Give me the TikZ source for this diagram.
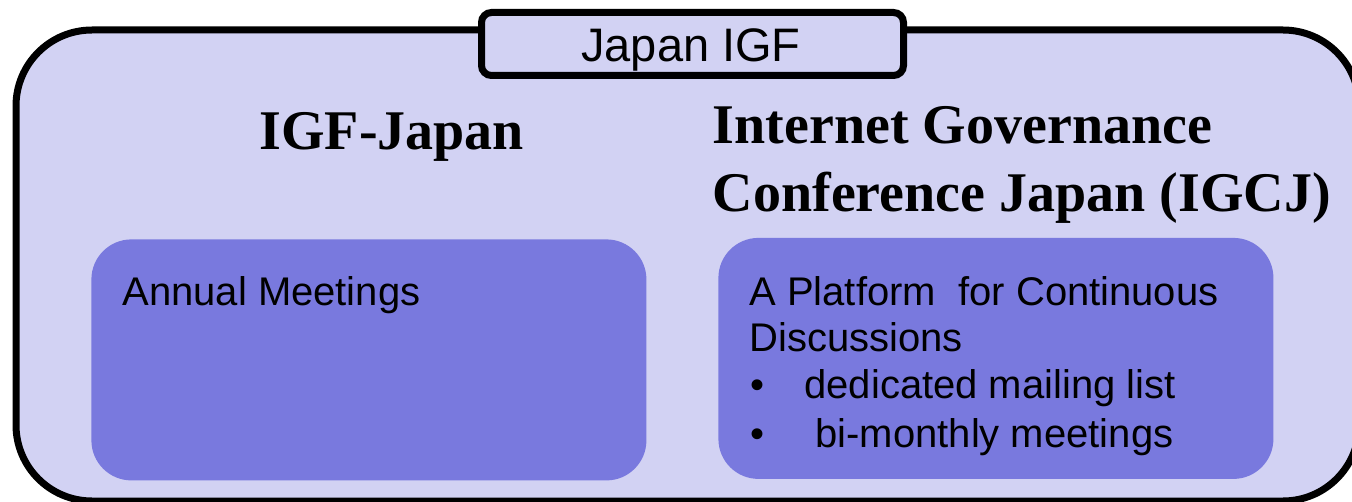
\documentclass[tikz,border=0pt]{standalone}
\usepackage{fontspec}
\setmainfont{Liberation Sans}
\newfontfamily\headfont{Liberation Serif}

\definecolor{lavender}{RGB}{210,210,243}
\definecolor{panelblue}{RGB}{121,121,222}

\begin{document}
\begin{tikzpicture}[x=0.5pt, y=-0.5pt,
        heading/.style={anchor=base west, inner sep=0pt, font=\headfont\bfseries\fontsize{28}{34}\selectfont},
        body/.style={anchor=base west, inner sep=0pt, font=\fontsize{20}{24}\selectfont},
        panel/.style={fill=panelblue, rounded corners=20pt, anchor=north west, inner sep=0pt,
                      minimum width=277.5pt, minimum height=120.5pt}]
            \useasboundingbox (0,0) rectangle (1352,502);
            \clip (0,0) rectangle (1352,502);

            \draw[line width=3.5pt, fill=lavender, rounded corners=38pt] (16,30) rectangle (1359,501);

            \node[draw, line width=3.5pt, fill=lavender, rounded corners=5pt, inner sep=0pt,
                  minimum width=211pt, minimum height=31.5pt] (tab) at (692.5,44) {};
            \node[anchor=base, inner sep=0pt, font=\fontsize{23.5}{28}\selectfont] (tablabel) at (691,61.7) {Japan IGF};

            \node[heading, anchor=base] (igfjapan) at (391.7,150) {IGF-Japan};
            \node[heading] (igcjtop) at (712.5,143.3) {Internet Governance};
            \node[heading] (igcjbottom) at (712.5,211.7) {Conference Japan (IGCJ)};

            \node[panel] (meetings) at (91,239) {};
            \node[panel] (platform) at (718,237.5) {};

            \node[body] (annual) at (122,305) {Annual Meetings};
            \node[body] (platformline) at (749,305) {A Platform\ \ for Continuous};
            \node[body] (discussions) at (749,351.7) {Discussions};
            \node[body] (bulletone) at (750,398.3) {•};
            \node[body] (mailing) at (804,398.3) {dedicated mailing list};
            \node[body] (bullettwo) at (750,447) {•};
            \node[body] (bimonthly) at (815,447) {bi-monthly meetings};
        \end{tikzpicture}
\end{document}
